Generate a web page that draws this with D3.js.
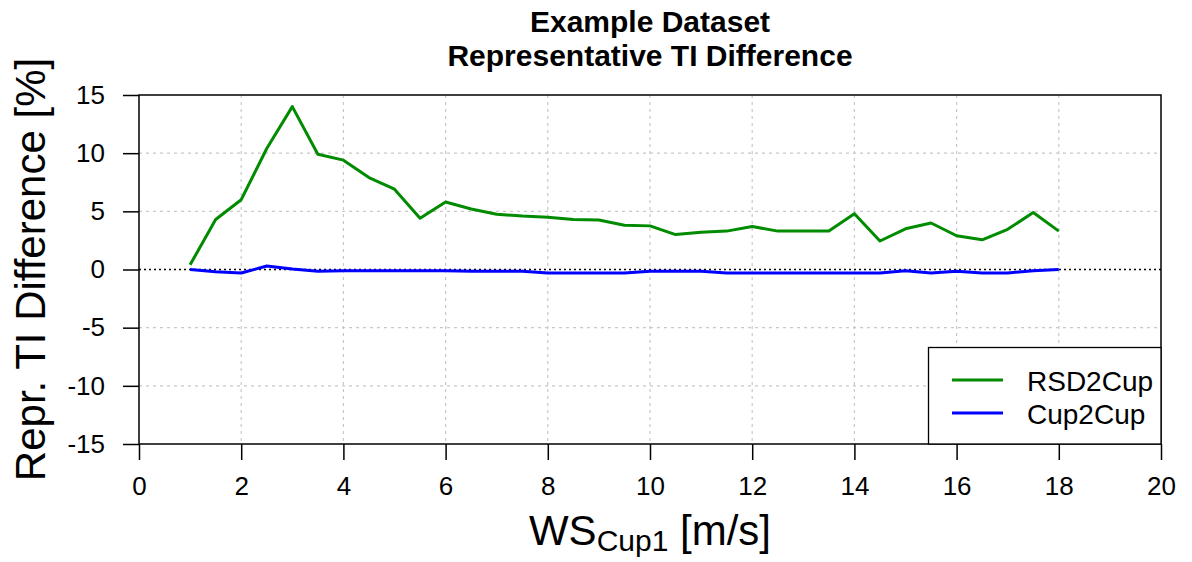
<!DOCTYPE html>
<html>
<head>
<meta charset="utf-8">
<script src="https://cdn.jsdelivr.net/npm/d3@7"></script>
<style>
  body { margin: 0; background: #fff; }
  text { font-family: "Liberation Sans", Arial, sans-serif; fill: #000; }
</style>
</head>
<body>
<script>
// wind speed bins
const ws = [1, 1.5, 2, 2.5, 3, 3.5, 4, 4.5, 5, 5.5, 6, 6.5, 7, 7.5, 8, 8.5, 9, 9.5,
  10, 10.5, 11, 11.5, 12, 12.5, 13, 13.5, 14, 14.5, 15, 15.5, 16, 16.5, 17, 17.5, 18];
// representative TI difference [%]
const rsd2cup = [0.4, 4.3, 6.0, 10.4, 14.0, 9.9, 9.4, 7.9, 6.9, 4.4, 5.8, 5.2, 4.75, 4.6, 4.5,
  4.3, 4.25, 3.8, 3.75, 3.0, 3.2, 3.3, 3.7, 3.3, 3.3, 3.3, 4.8, 2.45, 3.5, 4.0, 2.9, 2.55, 3.45, 4.9, 3.3];
const cup2cup = [0, -0.2, -0.3, 0.3, 0.05, -0.15, -0.1, -0.1, -0.1, -0.1, -0.1, -0.15, -0.15, -0.15, -0.3,
  -0.3, -0.3, -0.3, -0.15, -0.15, -0.15, -0.3, -0.3, -0.3, -0.3, -0.3, -0.3, -0.3, -0.1, -0.3, -0.15, -0.3, -0.3, -0.1, 0];
const xTicks = [0, 2, 4, 6, 8, 10, 12, 14, 16, 18, 20];
const yTicks = [-15, -10, -5, 0, 5, 10, 15];
const seriesNames = ["RSD2Cup", "Cup2Cup"];
const seriesColors = ["#008b00", "#0000ff"];

const W = 1192, H = 562;
const margin = {top: 95, right: 31, bottom: 118, left: 139};

const svg = d3.select("body").append("svg")
  .attr("width", W).attr("height", H);

const x = d3.scaleLinear().domain([0, 20]).range([margin.left, W - margin.right]);
const y = d3.scaleLinear().domain([-15, 15]).range([H - margin.bottom, margin.top]);

// grid
const grid = svg.append("g");
grid.selectAll(".gx").data(xTicks.slice(1, -1)).enter().append("line")
  .attr("x1", d => x(d)).attr("x2", d => x(d))
  .attr("y1", y(15)).attr("y2", y(-15))
  .attr("stroke", "#c8c8c8").attr("stroke-width", 1.2).attr("stroke-dasharray", "3,4");
grid.selectAll(".gy").data(yTicks.filter(d => d !== 0 && Math.abs(d) !== 15)).enter().append("line")
  .attr("x1", x(0)).attr("x2", x(20))
  .attr("y1", d => y(d)).attr("y2", d => y(d))
  .attr("stroke", "#c8c8c8").attr("stroke-width", 1.2).attr("stroke-dasharray", "3,4");
// zero line
svg.append("line")
  .attr("x1", x(0)).attr("x2", x(20)).attr("y1", y(0)).attr("y2", y(0))
  .attr("stroke", "#000").attr("stroke-width", 1.3).attr("stroke-dasharray", "2,3");

// axes
const xAxis = svg.append("g")
  .attr("transform", "translate(0," + y(-15) + ")")
  .call(d3.axisBottom(x).tickValues(xTicks).tickSize(16).tickPadding(17).tickFormat(d3.format("d")));
const yAxis = svg.append("g")
  .attr("transform", "translate(" + x(0) + ",0)")
  .call(d3.axisLeft(y).tickValues(yTicks).tickSize(16).tickPadding(18).tickFormat(d3.format("d")));
[xAxis, yAxis].forEach(a => {
  a.select(".domain").remove();
  a.selectAll(".tick line").attr("stroke", "#000").attr("stroke-width", 1.5);
  a.selectAll(".tick text").style("font-size", "26px").style("font-family", "Liberation Sans, Arial, sans-serif");
});
yAxis.selectAll(".tick text").text(d => d < 0 ? "-" + Math.abs(d) : d);

// lines
const line = d3.line().x((d, i) => x(ws[i])).y(d => y(d));
[rsd2cup, cup2cup].forEach((s, k) => {
  svg.append("path").datum(s)
    .attr("d", line)
    .attr("fill", "none")
    .attr("stroke", seriesColors[k])
    .attr("stroke-width", 3)
    .attr("stroke-linejoin", "round");
});

// box
svg.append("rect")
  .attr("x", x(0)).attr("y", y(15))
  .attr("width", x(20) - x(0)).attr("height", y(-15) - y(15))
  .attr("fill", "none").attr("stroke", "#000").attr("stroke-width", 1.5);

// legend
const lg = svg.append("g");
lg.append("rect")
  .attr("x", 928.5).attr("y", 347.5).attr("width", x(20) - 928.5).attr("height", y(-15) - 347.5)
  .attr("fill", "#fff").attr("stroke", "#000").attr("stroke-width", 1.3);
seriesNames.forEach((n, i) => {
  const ly = 380 + i * 33;
  lg.append("line").attr("x1", 952).attr("x2", 1003).attr("y1", ly).attr("y2", ly)
    .attr("stroke", seriesColors[i]).attr("stroke-width", 3);
  lg.append("text").attr("x", 1027).attr("y", ly + 11).style("font-size", "28px").text(n);
});

// titles
svg.append("text").attr("x", x(10)).attr("y", 32).attr("text-anchor", "middle")
  .style("font-size", "30px").style("font-weight", "bold").text("Example Dataset");
svg.append("text").attr("x", x(10)).attr("y", 66).attr("text-anchor", "middle")
  .style("font-size", "30px").style("font-weight", "bold").text("Representative TI Difference");

const xt = svg.append("text").attr("x", x(10)).attr("y", 545).attr("text-anchor", "middle")
  .style("font-size", "42px");
xt.append("tspan").text("WS");
xt.append("tspan").attr("dy", 6).style("font-size", "30px").text("Cup1");
xt.append("tspan").attr("dy", -6).text(" [m/s]");

svg.append("text")
  .attr("transform", "translate(45," + y(0) + ") rotate(-90)")
  .attr("text-anchor", "middle").style("font-size", "42px")
  .text("Repr. TI Difference [%]");
</script>
</body>
</html>
